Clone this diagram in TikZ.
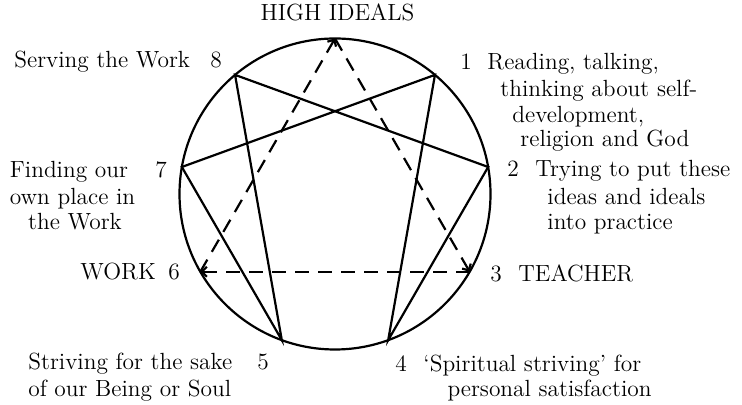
\documentclass[tikz,border=0pt]{standalone}
\usetikzlibrary{arrows.meta, calc}
\begin{document}
\begin{tikzpicture}[x=0.5pt, y=0.5pt,
    lbl/.style={anchor=base west, inner sep=0pt, font=\fontsize{11.7}{13.3}\selectfont},
    solidline/.style={line width=1.1pt},
    dashline/.style={line width=1.1pt, dash pattern=on 7pt off 4.5pt, -{Straight Barb[length=2.5pt,width=5pt]}}]
    \useasboundingbox (0,0) rectangle (742,405);
    % circle and its nine points
    \coordinate (c) at (335,211);
    \draw[solidline] (c) circle[radius=155.5];
    \foreach \i in {1,...,9}
        \coordinate (p\i) at ($(c)+(90-40*\i:155.5)$);
    % hexad and triangle
    \draw[solidline] (p1) -- (p4) -- (p2) -- (p8) -- (p5) -- (p7) -- cycle;
    \draw[dashline] (p9) -- (p3);
    \draw[dashline] (p3) -- (p6);
    \draw[dashline] (p6) -- (p9);
    % top
    \node[lbl, anchor=base] (high) at (337.5,384) {HIGH IDEALS};
    % point 1
    \node[lbl] (num1) at (460,335) {1};
    \node[lbl] (t1a) at (487,335) {Reading, talking,};
    \node[lbl] (t1b) at (500,308) {thinking about self-};
    \node[lbl] (t1c) at (512,282) {development,};
    \node[lbl] (t1d) at (520,258) {religion and God};
    % point 2
    \node[lbl] (num2) at (507,228) {2};
    \node[lbl] (t2a) at (535,228) {Trying to put these};
    \node[lbl] (t2b) at (547,200) {ideas and ideals};
    \node[lbl] (t2c) at (547,175) {into practice};
    % point 3
    \node[lbl] (num3) at (490,123) {3};
    \node[lbl] (t3) at (518,123) {TEACHER};
    % point 4
    \node[lbl] (num4) at (395,33) {4};
    \node[lbl] (t4a) at (423,33) {`Spiritual striving' for};
    \node[lbl, anchor=base east] (t4b) at (652,8) {personal satisfaction};
    % point 5
    \node[lbl] (num5) at (257,35) {5};
    \node[lbl] (t5a) at (28,35) {Striving for the sake};
    \node[lbl] (t5b) at (28,8) {of our Being or Soul};
    % point 6
    \node[lbl] (num6) at (168,125) {6};
    \node[lbl] (t6) at (80,125) {WORK};
    % point 7
    \node[lbl] (num7) at (155,227) {7};
    \node[lbl, anchor=base] (t7a) at (69,227) {Finding our};
    \node[lbl, anchor=base] (t7b) at (72.5,200) {own place in};
    \node[lbl, anchor=base] (t7c) at (75,175) {the Work};
    % point 8
    \node[lbl] (num8) at (210,337) {8};
    \node[lbl] (t8) at (14,337) {Serving the Work};
\end{tikzpicture}
\end{document}
